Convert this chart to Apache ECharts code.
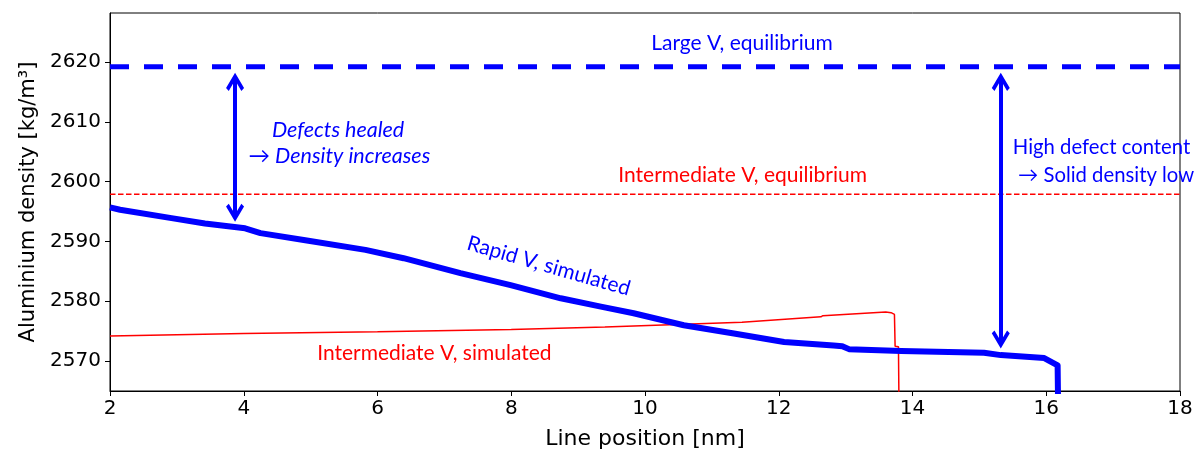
<!DOCTYPE html>
<html><head><meta charset="utf-8">
<script src="https://cdn.jsdelivr.net/npm/echarts@6/dist/echarts.min.js"></script>
<style>html,body{margin:0;padding:0;background:#fff}#c{width:1201px;height:453px}</style>
</head><body><div id="c"></div>
<script>
// ---- data ----
const rapidX = [2.0, 2.15, 2.92, 3.42, 4.02, 4.25, 4.92, 5.82, 6.39, 7.24, 7.99, 8.74, 9.34, 9.83, 10.58, 11.33, 12.08, 12.82, 12.95, 13.05, 13.83, 15.07, 15.32, 15.97, 16.17, 16.18];
const rapidY = [2595.7, 2595.3, 2593.9, 2593.0, 2592.2, 2591.4, 2590.2, 2588.6, 2587.2, 2584.7, 2582.7, 2580.5, 2579.1, 2578.0, 2576.0, 2574.6, 2573.2, 2572.6, 2572.5, 2572.0, 2571.7, 2571.4, 2571.0, 2570.5, 2569.3, 2560];
const interX = [2, 4, 6, 8, 9.4, 11.45, 11.47, 12.63, 12.66, 13.6, 13.68, 13.73, 13.74, 13.79, 13.8];
const interY = [2574.2, 2574.6, 2574.9, 2575.3, 2575.7, 2576.5, 2576.7, 2577.4, 2577.6, 2578.2, 2578.1, 2577.8, 2572.5, 2572.4, 2560];
const largeEqY = 2619.2;
const interEqY = 2597.9;
const xRange = [2, 18];
const yTicks = [2570, 2580, 2590, 2600, 2610, 2620];
const xTicks = [2, 4, 6, 8, 10, 12, 14, 16, 18];
// arrows: [x, yTop, yBottom]
const arrow1 = [3.87, 2618.2, 2593.3];
const arrow2 = [15.32, 2618.2, 2572.1];

const pairs = (xs, ys) => xs.map((x, i) => [x, ys[i]]);
const chevron = 'path://M10,0 L20,16 L17,19 L12,11 L12,20 L8,20 L8,11 L3,19 L0,16 Z';
const symH = 19, pxPerUnit = 5.97;
const off = (symH / 2) / pxPerUnit;
const arrowLine = a => [{coord: [a[0], a[1] - off]}, {coord: [a[0], a[2] + off]}];

const chart = echarts.init(document.getElementById('c'));
const option = {
  animation: false,
  backgroundColor: '#fff',
  grid: {left: 110, right: 21, top: 13, bottom: 62, outerBoundsMode: 'none', containLabel: false, show: true, borderColor: '#000', borderWidth: 1, backgroundColor: 'transparent'},
  xAxis: {
    type: 'value', min: xRange[0], max: xRange[1], interval: 2,
    name: 'Line position [nm]', nameLocation: 'middle', nameGap: 37,
    nameTextStyle: {fontFamily: 'DejaVu Sans', fontSize: 22, color: '#000'},
    axisLine: {show: true, onZero: false, lineStyle: {color: '#000', width: 1}},
    axisTick: {show: true, inside: false, length: 5, lineStyle: {color: '#000'}},
    axisLabel: {fontFamily: 'DejaVu Sans', fontSize: 20, color: '#000', margin: 8},
    splitLine: {show: false}
  },
  yAxis: {
    type: 'value', min: 2565, max: 2628.2,
    name: 'Aluminium density [kg/m³]', nameLocation: 'middle', nameGap: 64,
    nameTextStyle: {fontFamily: 'DejaVu Sans', fontSize: 21, color: '#000'},
    axisLine: {show: true, onZero: false, lineStyle: {color: '#000', width: 1}},
    axisTick: {show: true, length: 5, lineStyle: {color: '#000'}, customValues: yTicks},
    axisLabel: {fontFamily: 'DejaVu Sans', fontSize: 20, color: '#000', margin: 9, customValues: yTicks, formatter: v => String(v)},
    splitLine: {show: false}
  },
  series: [
    {type: 'line', data: pairs(interX, interY), showSymbol: false, lineStyle: {color: '#ff0000', width: 1.5}, z: 3},
    {type: 'line', data: [[xRange[0], interEqY], [xRange[1], interEqY]], showSymbol: false, lineStyle: {color: '#ff0000', width: 1.5, type: [5.5, 2.5]}, z: 2},
    {type: 'line', data: [[xRange[0], largeEqY], [xRange[1], largeEqY]], showSymbol: false, lineStyle: {color: '#0000ff', width: 5, type: [19, 15]}, z: 2},
    {type: 'line', data: pairs(rapidX, rapidY), showSymbol: false, lineStyle: {color: '#0000ff', width: 6, join: 'round', cap: 'butt'}, z: 4},
    {type: 'line', data: [], z: 5,
      markLine: {silent: true, animation: false, symbol: [chevron, chevron], symbolSize: [18, symH],
        label: {show: false}, lineStyle: {color: '#0000ff', width: 4, type: 'solid'},
        itemStyle: {color: '#0000ff'},
        data: [arrowLine(arrow1), arrowLine(arrow2)]}}
  ]
};
chart.setOption(option);

// annotation texts in data coordinates
const notes = [
  {t: 'Large V, equilibrium', p: [11.45, 2623.1], c: '#0000ff', a: 'center', s: 21},
  {t: 'Intermediate V, equilibrium', p: [11.46, 2601.1], c: '#ff0000', a: 'center', s: 21},
  {t: 'Rapid V, simulated', p: [8.56, 2585.9], c: '#0000ff', a: 'center', r: -16, s: 21},
  {t: 'Intermediate V, simulated', p: [6.85, 2571.3], c: '#ff0000', a: 'center', s: 21},
  {t: 'Defects healed', p: [5.41, 2608.7], c: '#0000ff', a: 'center', i: true, s: 21.5},
  {t: '→ Density increases', p: [5.43, 2604.2], c: '#0000ff', a: 'center', i: true, s: 21.5},
  {t: 'High defect content', p: [15.5, 2605.8], c: '#0000ff', a: 'left', s: 20.3},
  {t: ' → Solid density low', p: [15.5, 2601.1], c: '#0000ff', a: 'left', s: 20.3}
];
const g = notes.map(n => {
  const px = chart.convertToPixel({gridIndex: 0}, n.p);
  return {type: 'text', x: px[0], y: px[1], rotation: (n.r || 0) * Math.PI / 180, z: 10,
    style: {text: n.t, fill: n.c, font: (n.i ? 'italic ' : '') + n.s + 'px Lato', align: n.a, verticalAlign: 'middle'}};
});
chart.setOption({graphic: g});
</script></body></html>
